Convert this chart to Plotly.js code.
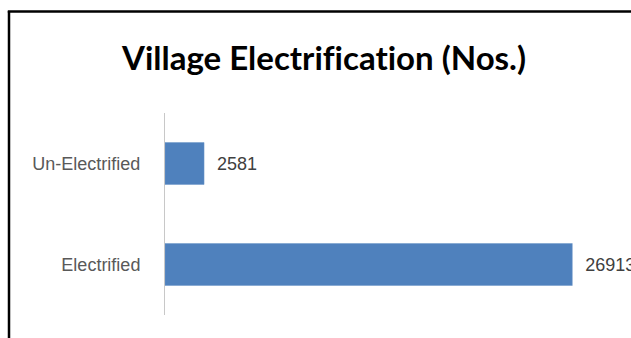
<!DOCTYPE html>
<html>
<head>
<meta charset="utf-8">
<script src="https://cdn.plot.ly/plotly-3.0.1.min.js"></script>
<style>html,body{margin:0;padding:0;background:#fff;}#chart{width:631px;height:338px;}.gtitle{font-variant-ligatures:none;font-feature-settings:"liga" 0;}</style>
</head>
<body>
<div id="chart"></div>
<script>
const categories = ['Un-Electrified', 'Electrified'];
const villages = [2581, 26913];
const chartTitle = 'Village Electrification (Nos.)';

const W = 631, H = 338;
const M = {l: 165, r: 12, t: 113, b: 23};
const pw = W - M.l - M.r, ph = H - M.t - M.b;
const px = x => (x - M.l) / pw;
const py = y => (H - M.b - y) / ph;

const trace = {
  type: 'bar',
  orientation: 'h',
  y: categories,
  x: villages,
  marker: {color: '#4F81BD', line: {color: '#6f97c8', width: 0.5}},
  text: villages.map(v => '  ' + v),
  textposition: 'outside',
  textfont: {family: 'Liberation Sans, Arial', size: 18, color: '#404040'},
  cliponaxis: false,
  hoverinfo: 'none'
};

const layout = {
  width: W, height: H,
  margin: M,
  paper_bgcolor: '#ffffff',
  plot_bgcolor: '#ffffff',
  showlegend: false,
  bargap: 0.584,
  title: {
    text: '<b>' + chartTitle + '</b>',
    font: {family: 'Lato, Liberation Sans, Arial', size: 33, color: '#000000'},
    x: 324 / W, xanchor: 'center',
    y: 1 - 58 / H, yanchor: 'middle',
    xref: 'container', yref: 'container'
  },
  xaxis: {
    range: [0, 30000],
    showgrid: false, zeroline: false, showline: false,
    showticklabels: false, ticks: ''
  },
  yaxis: {
    autorange: 'reversed',
    showline: true, linecolor: '#c8c8c8', linewidth: 1,
    showgrid: false, zeroline: false, ticks: '',
    ticklabelstandoff: 20,
    tickfont: {family: 'Liberation Sans, Arial', size: 18, color: '#595959'}
  },
  shapes: [
    {type: 'line', xref: 'paper', yref: 'paper', x0: px(9), x1: px(9), y0: py(11), y1: py(345), line: {color: '#000', width: 2.5}},
    {type: 'line', xref: 'paper', yref: 'paper', x0: px(7.8), x1: px(640), y0: py(11.5), y1: py(11.5), line: {color: '#000', width: 2.5}}
  ]
};

Plotly.newPlot('chart', [trace], layout, {displayModeBar: false, staticPlot: true});
</script>
</body>
</html>
